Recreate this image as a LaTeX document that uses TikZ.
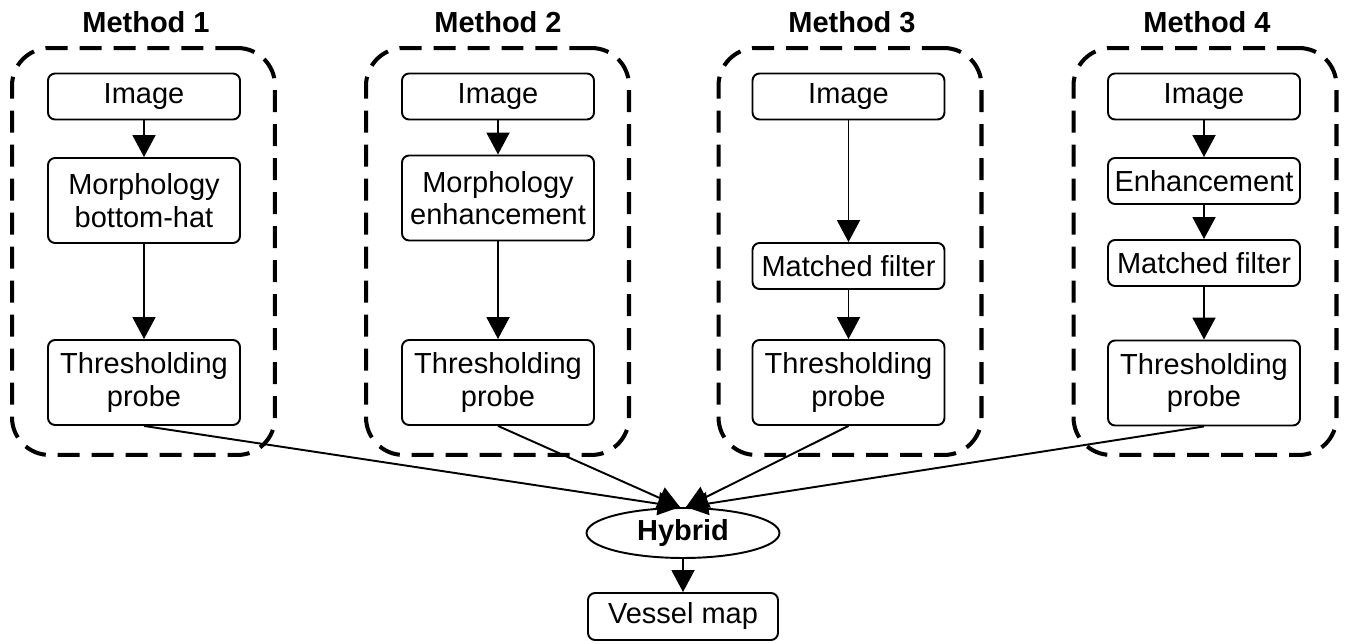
\documentclass[tikz,border=0pt]{standalone}
\usepackage{fontspec}
\setmainfont{Liberation Sans}
\usetikzlibrary{arrows.meta,shapes.geometric}

\begin{document}
\begin{tikzpicture}[x=0.02cm, y=-0.02cm,
 box/.style={rectangle, rounded corners=4pt, draw, line width=1.1pt, minimum width=3.84cm, minimum height=0.92cm, align=center, inner sep=2pt, font=\fontsize{16.5}{18.5}\selectfont},
 tall/.style={box, minimum height=1.7cm},
 grp/.style={rectangle, rounded corners=0.75cm, draw, dash pattern=on 0.44cm off 0.24cm, line width=2.3pt, minimum width=5.26cm, minimum height=8.14cm},
 ttl/.style={font=\fontsize{16.5}{18.5}\selectfont\bfseries},
 arr/.style={-{Triangle[length=0.44cm,width=0.46cm]}, line width=1.1pt},
]
\useasboundingbox (0,0) rectangle (1346,644);
\node[grp] (grp1) at (143.5,251.5) {};
\node[grp] (grp2) at (497.5,251.5) {};
\node[grp] (grp3) at (850,251.5) {};
\node[grp] (grp4) at (1205,251.5) {};
\node[ttl] (ttl1) at (146,22) {Method 1};
\node[ttl] (ttl2) at (498,22) {Method 2};
\node[ttl] (ttl3) at (852,22) {Method 3};
\node[ttl] (ttl4) at (1207,22) {Method 4};
\node[box] (img1) at (144,96.5) {Image};
\node[tall] (mor1) at (144,200.5) {Morphology\\bottom-hat};
\node[tall] (thr1) at (144,382.5) {Thresholding\\probe};
\draw[arr] (img1.south) -- (mor1.north);
\draw[arr] (mor1.south) -- (thr1.north);
\node[box] (img2) at (498,96.5) {Image};
\node[tall] (mor2) at (498,198) {Morphology\\enhancement};
\node[tall] (thr2) at (498,382.5) {Thresholding\\probe};
\draw[arr] (img2.south) -- (mor2.north);
\draw[arr] (mor2.south) -- (thr2.north);
\node[box] (img3) at (848.5,96.5) {Image};
\node[box] (mf3) at (848.5,266) {Matched filter};
\node[tall] (thr3) at (848.5,382.5) {Thresholding\\probe};
\draw[arr] (img3.south) -- (mf3.north);
\draw[arr] (mf3.south) -- (thr3.north);
\node[box] (img4) at (1204,96.5) {Image};
\node[box] (enh4) at (1204,181) {Enhancement};
\node[box] (mf4) at (1204,263) {Matched filter};
\node[tall] (thr4) at (1204,383) {Thresholding\\probe};
\draw[arr] (img4.south) -- (enh4.north);
\draw[arr] (enh4.south) -- (mf4.north);
\draw[arr] (mf4.south) -- (thr4.north);
\node[ellipse, draw, line width=1.1pt, minimum width=3.86cm, minimum height=1.0cm, inner sep=0pt, ttl] (hyb) at (683,533) {Hybrid};
\node[box, minimum width=3.8cm, minimum height=0.94cm] (vmap) at (683,616.5) {Vessel map};
\coordinate (hl) at ([xshift=-0.06cm]hyb.north);
\coordinate (hr) at ([xshift=0.06cm]hyb.north);
\draw[arr] (thr1.south) -- (hl);
\draw[arr] (thr2.south) -- (hl);
\draw[arr] (thr3.south) -- (hr);
\draw[arr] (thr4.south) -- (hr);
\draw[arr] (hyb.south) -- (vmap.north);
\end{tikzpicture}
\end{document}
